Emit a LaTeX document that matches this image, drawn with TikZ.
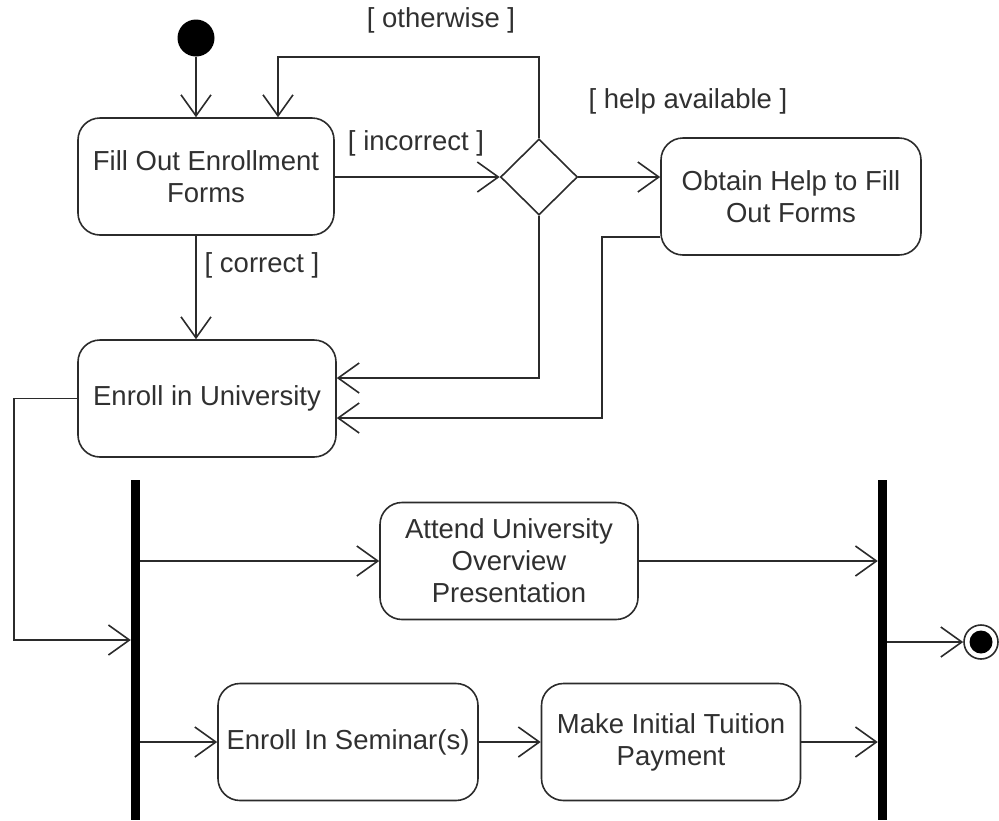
\documentclass[tikz,border=0pt]{standalone}
\usepackage{fontspec}
\setmainfont{Liberation Sans}
\usetikzlibrary{arrows.meta,shapes.geometric}
\definecolor{ink}{HTML}{2B2B2B}
\definecolor{txt}{HTML}{303030}
\begin{document}
\begin{tikzpicture}[x=1pt,y=-1pt,
  font=\fontsize{27.5}{32}\selectfont,
  flow/.style={draw=ink,line width=1.6pt,-{Straight Barb[length=21pt,width=30pt,line width=1.6pt]}},
  plain/.style={draw=ink,line width=1.6pt},
  action/.style={draw=ink,line width=1.6pt,rounded corners=22pt,align=center,text=txt,
    minimum width=258pt,minimum height=117pt,inner sep=0pt},
  guard/.style={text=txt,inner sep=0pt},
  bar/.style={fill=black,draw=none,minimum width=9pt,minimum height=340pt,inner sep=0pt}]
\useasboundingbox (0,0) rectangle (999,820);

% start and end markers
\node[circle,fill=black,minimum size=37pt,inner sep=0pt] (start) at (196,38) {};
\node[circle,draw=ink,line width=1.6pt,fill=white,minimum size=34pt,inner sep=0pt] (stop) at (981,642) {};
\node[circle,fill=black,minimum size=23pt,inner sep=0pt] at (stop) {};

% actions
\node[action,minimum width=256pt] (fill) at (206,176.5) {Fill Out Enrollment\\Forms};
\node[action,minimum width=260pt] (help) at (791,196.5) {Obtain Help to Fill\\Out Forms};
\node[action] (enroll) at (207,398.5) {Enroll in University};
\node[action] (attend) at (509,561) {Attend University\\Overview\\Presentation};
\node[action,minimum width=260pt] (seminar) at (348,742) {Enroll In Seminar(s)};
\node[action,minimum width=259pt] (pay) at (671,742) {Make Initial Tuition\\Payment};

% decision
\node[diamond,draw=ink,line width=1.6pt,minimum width=77pt,minimum height=76pt,inner sep=0pt,aspect=1] (check) at (539,177) {};

% fork and join bars
\node[bar] (fork) at (135.5,650) {};
\node[bar] (join) at (882.5,650) {};

% guards
\node[guard] (gotherwise) at (441,20) {[ otherwise ]};
\node[guard] (gincorrect) at (416,143) {[ incorrect ]};
\node[guard] (ghelp) at (688,101) {[ help available ]};
\node[guard] (gcorrect) at (262,265) {[ correct ]};

% helper corners
\coordinate (o1) at (539,57);
\coordinate (o2) at (278,57);
\coordinate (hx) at (602,237);

% flows
\draw[flow] (start) -- (fill.north -| start);
\draw[flow] (fill.east |- check) -- (check.west);
\draw[flow] (check.north) -- (o1) -- (o2) -- (o2 |- fill.north);
\draw[flow] (check.east) -- (help.west |- check);
\draw[flow] (fill.south -| start) -- (enroll.north -| start);
\draw[flow] (check.south) -- (539,378) -- (enroll.east |- 0,378);
\draw[flow] (help.west |- hx) -- (hx) -- (602,418) -- (enroll.east |- 0,418);
\draw[flow] (enroll.west) -- (14,398.5) -- (14,640) -- (fork.west |- 0,640);
\draw[flow] (fork.east |- attend) -- (attend.west);
\draw[flow] (attend.east) -- (join.west |- attend);
\draw[flow] (fork.east |- seminar) -- (seminar.west);
\draw[flow] (seminar.east) -- (pay.west);
\draw[flow] (pay.east) -- (join.west |- pay);
\draw[flow] (join.east |- stop) -- (stop.west);
\end{tikzpicture}
\end{document}
